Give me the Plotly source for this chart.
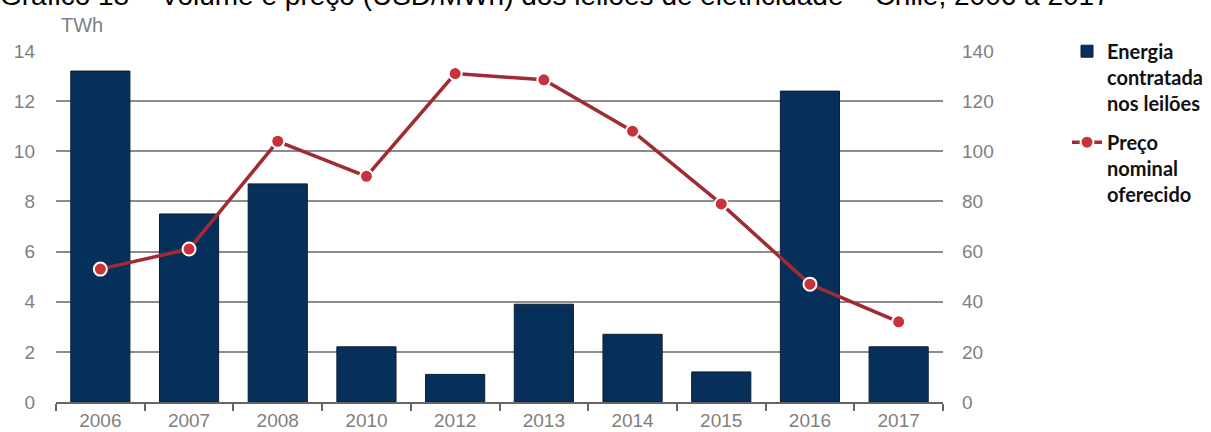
import plotly.graph_objects as go

years = ["2006", "2007", "2008", "2010", "2012", "2013", "2014", "2015", "2016", "2017"]
energia_twh = [13.2, 7.5, 8.7, 2.2, 1.1, 3.9, 2.7, 1.2, 12.4, 2.2]
preco_usd = [53, 61, 104, 90, 131, 128.5, 108, 79, 47, 32]

left_ticks = [0, 2, 4, 6, 8, 10, 12, 14]
right_ticks = [0, 20, 40, 60, 80, 100, 120, 140]

title_text = "Gráfico 18 – Volume e preço (USD/MWh) dos leilões de eletricidade – Chile, 2006 a 2017"
unit_text = "TWh"
name_bar = "<b>Energia<br>contratada<br>nos leilões</b>"
name_line = "<b>Preço<br>nominal<br>oferecido</b>"

tick_font = dict(family="Liberation Sans Narrow, Arial Narrow, Liberation Sans, Arial", size=19, color="#7f7f7f")

fig = go.Figure()
fig.add_trace(go.Bar(
    x=years, y=energia_twh, name=name_bar, legendgroup="a",
    marker=dict(color="#06305a", line=dict(color="#0b1e36", width=1)),
    yaxis="y",
))
fig.add_trace(go.Scatter(
    x=years, y=preco_usd, name=name_line, legendgroup="b",
    mode="lines+markers",
    line=dict(color="#a02b35", width=3.5),
    marker=dict(color="#c8323b", size=13, line=dict(color="white", width=2)),
    yaxis="y2",
))

fig.update_layout(
    width=1211, height=432,
    margin=dict(l=56, r=268, t=51, b=30, autoexpand=False),
    paper_bgcolor="white", plot_bgcolor="white",
    bargap=0.333,
    showlegend=True,
    legend=dict(
        x=1.1398, xanchor="left", y=1.055, yanchor="top",
        font=dict(family="Lato, Open Sans, sans-serif", size=20, color="#111111"),
        valign="top", tracegroupgap=10, bgcolor="rgba(0,0,0,0)",
    ),
    xaxis=dict(
        type="category", range=[-0.5, len(years) - 0.5], tickson="boundaries", ticks="outside",
        ticklen=7, automargin=False,
        tickcolor="#666666", tickwidth=1.5, showline=True, linecolor="#666666", linewidth=1.5,
        showgrid=False, tickfont=tick_font,
    ),
    yaxis=dict(
        range=[0, 14], tickvals=left_ticks, showgrid=True, gridcolor="#8c8c8c", gridwidth=1.5,
        zeroline=False, showline=False, ticks="", tickfont=tick_font, ticklabelstandoff=20,
        automargin=False,
    ),
    yaxis2=dict(
        range=[0, 140], tickvals=right_ticks, overlaying="y", side="right", showgrid=False,
        zeroline=False, showline=False, ticks="", tickfont=tick_font, ticklabelstandoff=18,
        automargin=False,
    ),
    annotations=[
        dict(text=title_text, xref="paper", yref="paper", x=0, y=1, xanchor="left", yanchor="middle",
             xshift=-58, yshift=56, showarrow=False,
             font=dict(family="Liberation Sans, Arial", size=28, color="black")),
        dict(text=unit_text, xref="paper", yref="paper", x=0, y=1, xanchor="left", yanchor="middle",
             xshift=3, yshift=26, showarrow=False,
             font=dict(family="Liberation Sans Narrow, Arial Narrow, Liberation Sans", size=20, color="#7f7f7f")),
    ],
)

fig.write_html("out.html", config={"displayModeBar": False},
               post_script="document.body.style.margin='0';")
